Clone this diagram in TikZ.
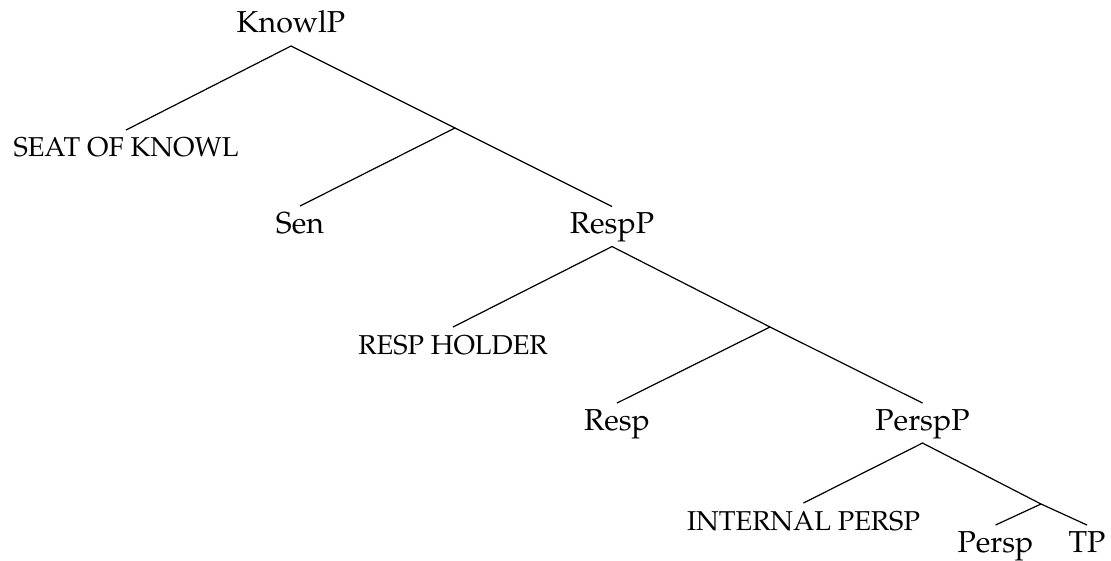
\documentclass[tikz,border=0pt]{standalone}
\usepackage[T1]{fontenc}
\usepackage{mathpazo}
\usepackage{tikz}
\usetikzlibrary{positioning, calc}

\begin{document}
\begin{tikzpicture}[
        x=0.33pt, y=-0.33pt,
        cat/.style={anchor=base, inner sep=2pt, outer sep=0pt, text height=6.9pt, text depth=2.3pt},
        role/.style={cat, font=\small},
        branch/.style={draw=black, line width=0.4pt}
    ]
        \useasboundingbox (0,0) rectangle (1111,560);
        % nodes
        \node[cat] (knowl) at (291, 33) {KnowlP};
        \node[role] (seat) at (126, 157) {SEAT OF KNOWL};
        \coordinate (j1) at (455, 128);
        \node[cat] (sen) at (300, 233) {Sen};
        \node[cat] (respP) at (612, 233.5) {RespP};
        \node[role] (holder) at (453, 354) {RESP HOLDER};
        \coordinate (j2) at (770, 327);
        \node[cat] (resp) at (617, 430) {Resp};
        \node[cat] (perspP) at (922.5, 430) {PerspP};
        \node[role] (internal) at (803.5, 530) {INTERNAL PERSP};
        \coordinate (j3) at (1041, 504);
        \node[cat] (persp) at (995.5, 552) {Persp};
        \node[cat] (tp) at (1087, 552) {TP};
        % branches
        \draw[branch] (seat.north) -- (knowl.south) -- (j1);
        \draw[branch] (sen.north) -- (j1) -- (respP.north);
        \draw[branch] (holder.north) -- (respP.south) -- (j2);
        \draw[branch] (resp.north) -- (j2) -- (perspP.north);
        \draw[branch] (internal.north) -- (perspP.south) -- (j3);
        \draw[branch] (persp.north) -- (j3) -- (tp.north);
    \end{tikzpicture}
\end{document}
